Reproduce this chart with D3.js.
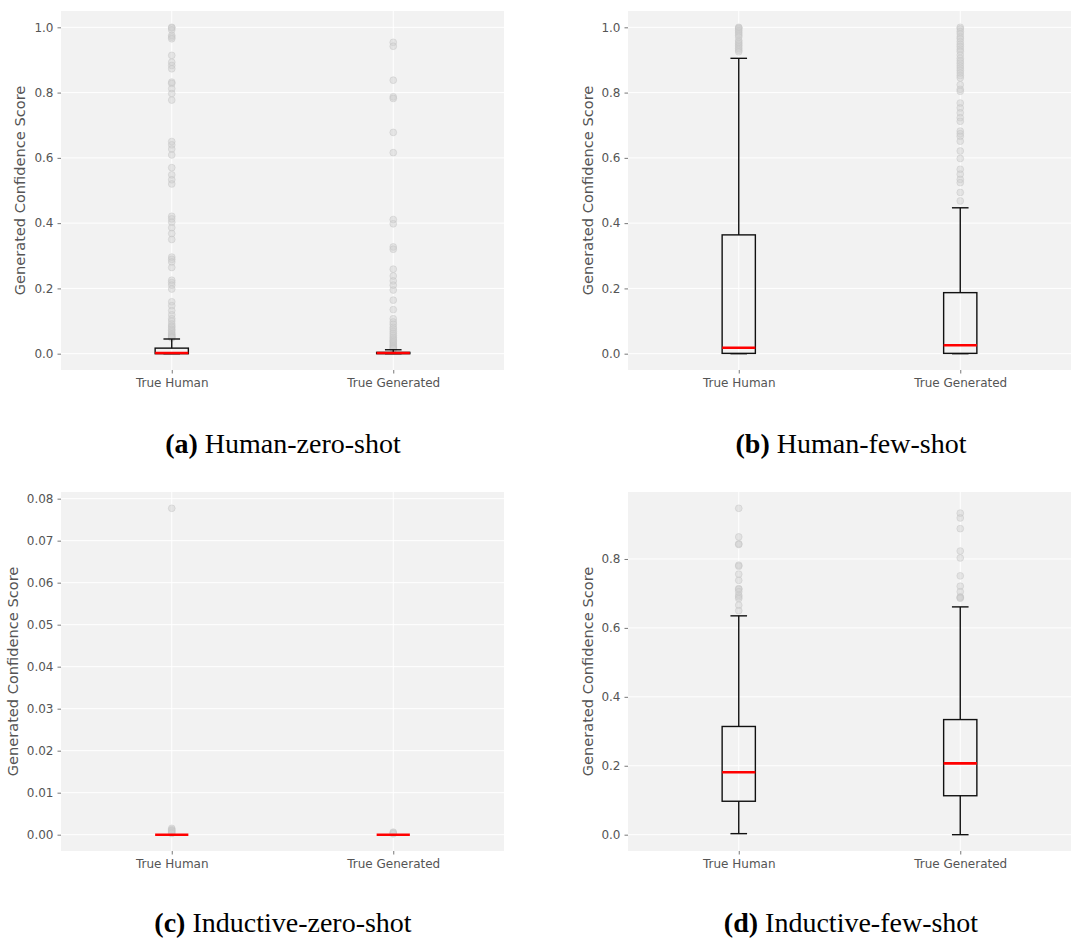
<!DOCTYPE html>
<html>
<head>
<meta charset="utf-8">
<script src="https://cdn.jsdelivr.net/npm/d3@7"></script>
<style>
	body { margin: 0; background: #fff; }
	svg { display: block; }
</style>
</head>
<body>
<svg id="chart" width="1075" height="938"></svg>
<script>
// categories along x
var categories = ["True Human", "True Generated"];

// box stats per category: [whiskerLow, q1, median, q3, whiskerHigh]
var humanZeroBox = [[0, 0, 0.002, 0.017, 0.045], [0, 0, 0.002, 0.004, 0.012]];
var humanFewBox = [[0, 0.001, 0.018, 0.364, 0.905], [0, 0.001, 0.026, 0.187, 0.447]];
var inductiveZeroBox = [[0, 0, 0, 0, 0], [0, 0, 0, 0, 0]];
var inductiveFewBox = [[0.003, 0.097, 0.181, 0.314, 0.635], [0, 0.113, 0.207, 0.334, 0.661]];

// outliers per category
var humanZeroOut = [
	[1.0, 0.998, 0.992, 0.975, 0.97, 0.965, 0.914, 0.893, 0.883, 0.873, 0.832, 0.828, 0.812, 0.797, 0.777,
	 0.65, 0.64, 0.627, 0.609, 0.57, 0.548, 0.533, 0.52, 0.421, 0.413, 0.403, 0.386, 0.368, 0.35,
	 0.296, 0.289, 0.281, 0.264, 0.225, 0.218, 0.21, 0.198, 0.159, 0.147, 0.132, 0.119, 0.107, 0.1,
	 0.091, 0.085, 0.081, 0.075, 0.071, 0.066, 0.061, 0.058, 0.055, 0.052, 0.05, 0.048],
	[0.954, 0.942, 0.838, 0.787, 0.782, 0.678, 0.616, 0.411, 0.398, 0.327, 0.32, 0.259, 0.238, 0.223,
	 0.21, 0.195, 0.164, 0.135, 0.107, 0.097, 0.09, 0.081, 0.075, 0.068, 0.062, 0.056, 0.05, 0.045,
	 0.041, 0.037, 0.033, 0.029, 0.025, 0.022, 0.019, 0.016, 0.014]
];
var humanFewOut = [
	[1.0, 0.998, 0.995, 0.99, 0.985, 0.98, 0.975, 0.97, 0.96, 0.955, 0.95, 0.945, 0.94, 0.935, 0.93, 0.925],
	[1.0, 0.995, 0.987, 0.98, 0.971, 0.965, 0.956, 0.948, 0.941, 0.933, 0.926, 0.915, 0.905, 0.897, 0.89,
	 0.882, 0.875, 0.868, 0.86, 0.852, 0.845, 0.824, 0.81, 0.804, 0.768, 0.753, 0.738, 0.723, 0.712,
	 0.682, 0.674, 0.666, 0.651, 0.621, 0.598, 0.565, 0.55, 0.534, 0.524, 0.494, 0.468]
];
var inductiveZeroOut = [
	[0.0777, 0.0015, 0.0012, 0.001, 0.0008, 0.0005, 0.0003],
	[0.0006, 0.0004, 0.0002]
];
var inductiveFewOut = [
	[0.947, 0.864, 0.844, 0.842, 0.782, 0.779, 0.756, 0.738, 0.714, 0.712, 0.705, 0.695, 0.69, 0.685, 0.666, 0.65],
	[0.933, 0.919, 0.888, 0.823, 0.803, 0.751, 0.721, 0.705, 0.69, 0.688, 0.686]
];

// y tick values
var ticksUnit = [0, 0.2, 0.4, 0.6, 0.8, 1.0];
var ticksSmall = [0, 0.01, 0.02, 0.03, 0.04, 0.05, 0.06, 0.07, 0.08];
var ticksFew = [0, 0.2, 0.4, 0.6, 0.8];

var captionLetters = ["(a)", "(b)", "(c)", "(d)"];
var captionTexts = ["Human-zero-shot", "Human-few-shot", "Inductive-zero-shot", "Inductive-few-shot"];

var panels = [
	{ box: humanZeroBox, out: humanZeroOut, ticks: ticksUnit, fmt: ".1f", x: 61, y: 11, lx: 19, cx: 283, cy: 453 },
	{ box: humanFewBox, out: humanFewOut, ticks: ticksUnit, fmt: ".1f", x: 628, y: 11, lx: 587, cx: 851, cy: 453 },
	{ box: inductiveZeroBox, out: inductiveZeroOut, ticks: ticksSmall, fmt: ".2f", x: 61, y: 492, lx: 12, cx: 283, cy: 932 },
	{ box: inductiveFewBox, out: inductiveFewOut, ticks: ticksFew, fmt: ".1f", x: 628, y: 492, lx: 587, cx: 851, cy: 932 }
];

var W = 443, H = 359, boxW = 0.15;
var svg = d3.select("#chart");

panels.forEach(function(p, i) {
	var g = svg.append("g").attr("transform", "translate(" + p.x + "," + p.y + ")");

	// matplotlib-like 5% margin on data range
	var all = [];
	p.box.forEach(function(b) { all = all.concat(b); });
	p.out.forEach(function(o) { all = all.concat(o); });
	var ext = d3.extent(all), pad = (ext[1] - ext[0]) * 0.05;

	var x = d3.scaleLinear().domain([0.5, 2.5]).range([0, W]);
	var y = d3.scaleLinear().domain([ext[0] - pad, ext[1] + pad]).range([H, 0]);

	g.append("rect").attr("width", W).attr("height", H).attr("fill", "#f2f2f2");

	// grid
	g.selectAll(".hg").data(p.ticks).enter().append("line")
		.attr("x1", 0).attr("x2", W)
		.attr("y1", function(d) { return y(d); }).attr("y2", function(d) { return y(d); })
		.attr("stroke", "#fff").attr("stroke-width", 1);
	g.selectAll(".vg").data(categories).enter().append("line")
		.attr("x1", function(d, j) { return x(j + 1); }).attr("x2", function(d, j) { return x(j + 1); })
		.attr("y1", 0).attr("y2", H)
		.attr("stroke", "#fff").attr("stroke-width", 1);

	// axes
	var ya = g.append("g").call(d3.axisLeft(y).tickValues(p.ticks).tickFormat(d3.format(p.fmt)).tickSize(3.5).tickPadding(4));
	var xa = g.append("g").attr("transform", "translate(0," + H + ")")
		.call(d3.axisBottom(x).tickValues([1, 2]).tickFormat(function(d) { return categories[d - 1]; }).tickSize(3.5).tickPadding(5));
	[ya, xa].forEach(function(a) {
		a.select(".domain").remove();
		a.selectAll(".tick line").attr("stroke", "#555").attr("stroke-width", 0.8);
		a.selectAll(".tick text").attr("fill", "#555").style("font-family", "DejaVu Sans").style("font-size", "12px");
	});

	g.append("text")
		.attr("transform", "translate(" + (p.lx - p.x) + "," + (H / 2) + ") rotate(-90)")
		.attr("text-anchor", "middle").attr("dominant-baseline", "central")
		.attr("fill", "#555").style("font-family", "DejaVu Sans").style("font-size", "14.6px")
		.text("Generated Confidence Score");

	// boxes
	var hw = (x(1 + boxW / 2) - x(1)), cw = hw / 2;
	p.box.forEach(function(b, j) {
		var cxp = x(j + 1), bg = g.append("g");
		// fliers
		bg.selectAll("circle").data(p.out[j]).enter().append("circle")
			.attr("cx", cxp).attr("cy", function(d) { return y(d); }).attr("r", 3.4)
			.attr("fill", "#cfcfcf").attr("fill-opacity", 0.45)
			.attr("stroke", "#c4c4c4").attr("stroke-opacity", 0.45).attr("stroke-width", 1);
		var ln = function(x1, y1, x2, y2) {
			bg.append("line").attr("x1", x1).attr("y1", y1).attr("x2", x2).attr("y2", y2)
				.attr("stroke", "#111").attr("stroke-width", 1.4);
		};
		ln(cxp, y(b[0]), cxp, y(b[1]));
		ln(cxp, y(b[3]), cxp, y(b[4]));
		ln(cxp - cw, y(b[0]), cxp + cw, y(b[0]));
		ln(cxp - cw, y(b[4]), cxp + cw, y(b[4]));
		bg.append("rect").attr("x", cxp - hw).attr("y", y(b[3]))
			.attr("width", hw * 2).attr("height", Math.max(0, y(b[1]) - y(b[3])))
			.attr("fill", "none").attr("stroke", "#111").attr("stroke-width", 1.4);
		bg.append("line").attr("x1", cxp - hw).attr("x2", cxp + hw)
			.attr("y1", y(b[2])).attr("y2", y(b[2]))
			.attr("stroke", "#ff0000").attr("stroke-width", 2.6);
	});

	// caption
	var cap = svg.append("text").attr("x", p.cx).attr("y", p.cy).attr("text-anchor", "middle")
		.style("font-family", "Liberation Serif").style("font-size", "28px").attr("fill", "#000");
	cap.append("tspan").style("font-weight", "bold").text(captionLetters[i]);
	cap.append("tspan").text(" " + captionTexts[i]);
});
</script>
</body>
</html>
